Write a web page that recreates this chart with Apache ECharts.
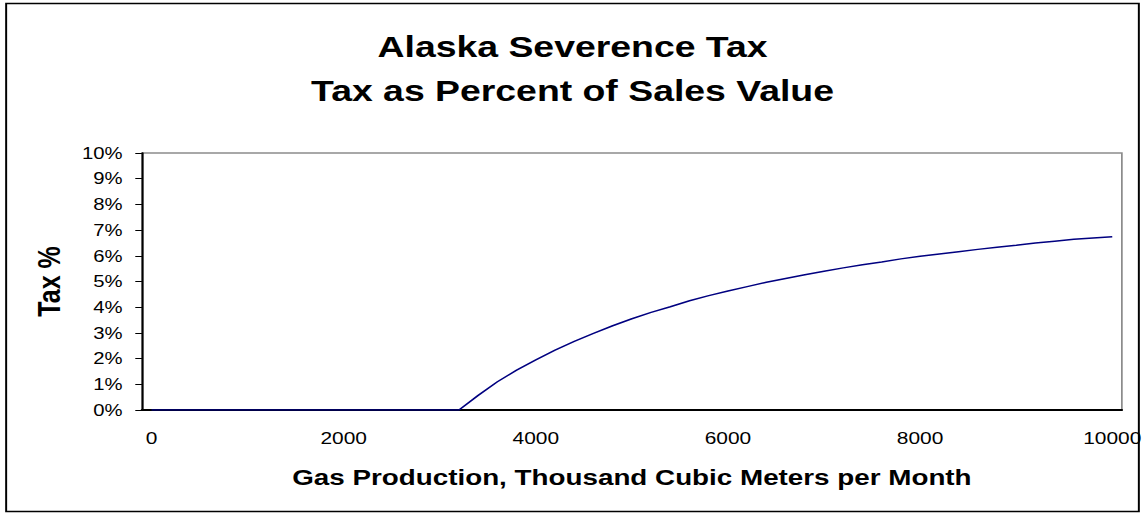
<!DOCTYPE html>
<html>
<head>
<meta charset="utf-8">
<title>Alaska Severence Tax</title>
<script src="https://cdn.jsdelivr.net/npm/echarts@6/dist/echarts.min.js"></script>
<style>
  html, body { margin: 0; padding: 0; background: #fff; overflow: hidden; }
  /* the chart is laid out on a narrower canvas and widened horizontally */
  #chart { width: 931px; height: 514px; transform: scaleX(1.22986); transform-origin: 0 0; }
</style>
</head>
<body>
<div id="chart"></div>
<script>
// Monthly gas production, thousand cubic meters
const production = [
  '0','200','400','600','800','1000','1200','1400','1600','1800',
  '2000','2200','2400','2600','2800','3000','3200','3400','3600','3800',
  '4000','4200','4400','4600','4800','5000','5200','5400','5600','5800',
  '6000','6200','6400','6600','6800','7000','7200','7400','7600','7800',
  '8000','8200','8400','8600','8800','9000','9200','9400','9600','9800',
  '10000'
];

// Severance tax as percent of sales value
const taxPercent = [
  0, 0, 0, 0, 0, 0, 0, 0, 0, 0,
  0, 0, 0, 0, 0, 0, 0, 0.57, 1.10, 1.55,
  1.95, 2.33, 2.67, 2.98, 3.28, 3.55, 3.80, 4.02, 4.25, 4.45,
  4.63, 4.80, 4.97, 5.12, 5.26, 5.40, 5.53, 5.65, 5.76, 5.88,
  5.98, 6.07, 6.16, 6.25, 6.33, 6.41, 6.50, 6.57, 6.64, 6.69,
  6.74
];

const titleLines = ['Alaska Severence Tax', 'Tax as Percent of Sales Value'];
const xAxisName = 'Gas Production, Thousand Cubic Meters per Month';
const yAxisName = 'Tax %';

const FONT = '"Liberation Sans", Arial, Helvetica, sans-serif';

const chart = echarts.init(document.getElementById('chart'), null, { renderer: 'svg' });

chart.setOption({
  backgroundColor: '#ffffff',
  animation: false,
  title: {
    text: titleLines.join('\n'),
    left: 'center',
    top: 19,
    textStyle: {
      fontFamily: FONT,
      fontSize: 30.4,
      fontWeight: 'bold',
      color: '#000',
      lineHeight: 44
    }
  },
  graphic: [{
    type: 'rect',
    shape: { x: 5, y: 3.5, width: 921, height: 508 },
    style: { fill: 'none', stroke: '#000', lineWidth: 1.6 },
    z: 100
  }],
  grid: {
    left: 115.4,
    right: 17.2,
    top: 153,
    bottom: 104,
    show: true,
    borderColor: '#8c8c8c',
    borderWidth: 1.4,
    backgroundColor: 'transparent'
  },
  xAxis: {
    type: 'category',
    data: production,
    boundaryGap: true,
    name: xAxisName,
    nameLocation: 'middle',
    nameGap: 55.5,
    nameTextStyle: {
      fontFamily: FONT,
      fontSize: 22.6,
      fontWeight: 'bold',
      color: '#000'
    },
    axisLine: { lineStyle: { color: '#000', width: 2 } },
    axisTick: { show: false },
    axisLabel: {
      interval: 9,
      margin: 19.5,
      fontFamily: FONT,
      fontSize: 17,
      color: '#000'
    },
    splitLine: { show: false }
  },
  yAxis: {
    type: 'value',
    min: 0,
    max: 10,
    interval: 1,
    name: yAxisName,
    nameLocation: 'middle',
    nameGap: 63,
    nameRotate: 90,
    nameTextStyle: {
      fontFamily: FONT,
      fontSize: 25,
      fontWeight: 'bold',
      color: '#000'
    },
    axisLine: { show: true, lineStyle: { color: '#000', width: 1.6 } },
    axisTick: { show: true, inside: false, length: 5.4, lineStyle: { color: '#000', width: 1 } },
    axisLabel: {
      formatter: '{value}%',
      margin: 15.7,
      fontFamily: FONT,
      fontSize: 16.5,
      color: '#000'
    },
    splitLine: { show: false }
  },
  series: [{
    type: 'line',
    data: taxPercent,
    symbol: 'none',
    smooth: false,
    lineStyle: { color: '#000080', width: 1.5 },
    z: 3
  }]
});
</script>
</body>
</html>
